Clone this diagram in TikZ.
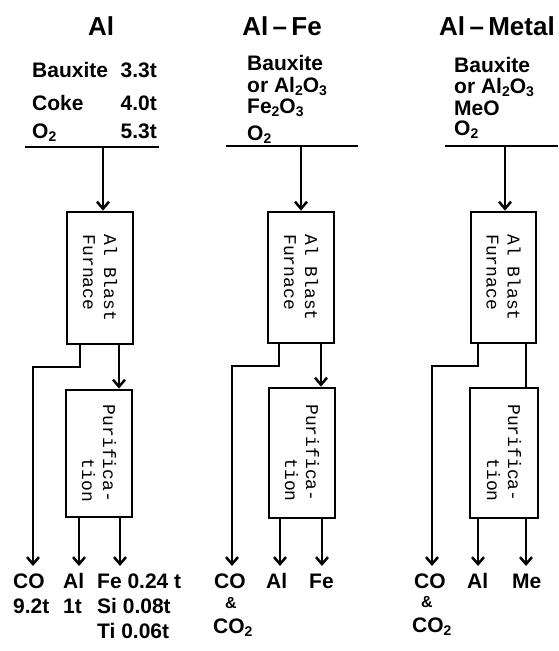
\documentclass[tikz,border=0pt]{standalone}
\usepackage{fontspec}
\setmainfont{Liberation Sans}
\newfontfamily\monofont{Liberation Mono}
\usetikzlibrary{arrows.meta}
\newcommand\lowsub[1]{\raisebox{-0.3ex}{\fontsize{14}{14}\selectfont #1}}
\tikzset{
  lbl/.style={font=\bfseries\fontsize{21}{25}\selectfont, inner sep=0pt, anchor=base west},
  lble/.style={lbl, anchor=base east},
  amp/.style={font=\bfseries\fontsize{16}{17}\selectfont, inner sep=0pt},
  ttl/.style={font=\bfseries\fontsize{26}{30}\selectfont, inner sep=0pt, anchor=base},
  boxnode/.style={draw, line width=2.8pt, minimum width=66pt, inner sep=0pt},
  boxtext/.style={font=\monofont\fontsize{18}{21}\selectfont, inner sep=0pt, rotate=-90},
  flow/.style={line width=2.5pt},
  arr/.style={flow, -{Straight Barb[length=7pt,width=12pt]}}
}
\begin{document}
\begin{tikzpicture}[x=1pt,y=-1pt]
\useasboundingbox (0,0) rectangle (558,651);

% ---------- Column 1: Al ----------
\node[ttl] (t1) at (101,35) {Al};
\node[lbl] (a1) at (32,77) {Bauxite};
\node[lble] (a1v) at (157,77) {3.3t};
\node[lbl] (b1) at (32,110) {Coke};
\node[lble] (b1v) at (157,110) {4.0t};
\node[lbl] (c1) at (32,138) {O\lowsub{2}};
\node[lble] (c1v) at (157,138) {5.3t};
\coordinate (h1l) at (25,147);
\coordinate (h1r) at (159,147);
\coordinate (in1) at (103,147);
\draw[flow] (h1l) -- (h1r);

\node[boxnode, minimum height=132pt] (f1) at (100,278) {};
\node[boxtext, align=left] (f1t) at (f1.center) {Al Blast\\Furnace};
\node[boxnode, minimum height=127pt] (p1) at (99,453.5) {};
\node[boxtext, align=right] (p1t) at (p1.center) {Purifica-\\tion};

\draw[arr] (in1) -- (in1 |- f1.north);
\coordinate (k1) at (33,367);
\coordinate (e1) at (33,566);
\draw[arr] ([xshift=-20pt]f1.south) |- (k1) -- (e1);
\draw[arr] ([xshift=19pt]f1.south) -- ([xshift=19pt]f1.south |- p1.north);
\draw[arr] ([xshift=-20pt]p1.south) -- ([xshift=-20pt]p1.south |- e1);
\draw[arr] ([xshift=21pt]p1.south) -- ([xshift=21pt]p1.south |- e1);

\node[lbl] (o1a) at (13,588) {CO};
\node[lbl] (o1b) at (13,613) {9.2t};
\node[lbl] (o1c) at (63,588) {Al};
\node[lbl] (o1d) at (63,613) {1t};
\node[lbl] (o1e) at (97,588) {Fe 0.24 t};
\node[lbl] (o1f) at (97,613) {Si 0.08t};
\node[lbl] (o1g) at (97,638) {Ti 0.06t};

% ---------- Column 2: Al-Fe ----------
\node[ttl] (t2) at (282,35) {Al\,--\,Fe};
\node[lbl] (a2) at (247,70) {Bauxite};
\node[lbl] (b2) at (247,92) {or Al\lowsub{2}O\lowsub{3}};
\node[lbl] (c2) at (247,113) {Fe\lowsub{2}O\lowsub{3}};
\node[lbl] (d2) at (247,140) {O\lowsub{2}};
\coordinate (h2l) at (226,146);
\coordinate (h2r) at (358,146);
\coordinate (in2) at (301,146);
\draw[flow] (h2l) -- (h2r);

\node[boxnode, minimum height=131pt] (f2) at (301,277.5) {};
\node[boxtext, align=left] (f2t) at (f2.center) {Al Blast\\Furnace};
\node[boxnode, minimum height=130pt] (p2) at (302,453) {};
\node[boxtext, align=right] (p2t) at (p2.center) {Purifica-\\tion};

\draw[arr] (in2) -- (in2 |- f2.north);
\coordinate (k2) at (232,366);
\coordinate (e2) at (232,566);
\draw[arr] ([xshift=-22pt]f2.south) |- (k2) -- (e2);
\draw[arr] ([xshift=20pt]f2.south) -- ([xshift=20pt]f2.south |- p2.north);
\draw[arr] ([xshift=-22pt]p2.south) -- ([xshift=-22pt]p2.south |- e2);
\draw[arr] ([xshift=20pt]p2.south) -- ([xshift=20pt]p2.south |- e2);

\node[lbl] (o2a) at (214,588) {CO};
\node[amp] (o2b) at (231,603) {\&};
\node[lbl] (o2c) at (213,633) {CO\lowsub{2}};
\node[lbl] (o2d) at (266,588) {Al};
\node[lbl] (o2e) at (309,588) {Fe};

% ---------- Column 3: Al-Metal ----------
\node[ttl] (t3) at (497,35) {Al\,--\,Metal};
\node[lbl] (a3) at (454,72) {Bauxite};
\node[lbl] (b3) at (454,93) {or Al\lowsub{2}O\lowsub{3}};
\node[lbl] (c3) at (454,115) {MeO};
\node[lbl] (d3) at (454,135) {O\lowsub{2}};
\coordinate (h3l) at (445,146);
\coordinate (h3r) at (558,146);
\coordinate (in3) at (505,146);
\draw[flow] (h3l) -- (h3r);

\node[boxnode, minimum width=65pt, minimum height=131pt] (f3) at (503.5,277.5) {};
\node[boxtext, align=left] (f3t) at (f3.center) {Al Blast\\Furnace};
\node[boxnode, minimum width=68pt, minimum height=130pt] (p3) at (504,453) {};
\node[boxtext, align=right] (p3t) at (p3.center) {Purifica-\\tion};

\draw[arr] (in3) -- (in3 |- f3.north);
\coordinate (k3) at (432,366);
\coordinate (e3) at (432,566);
\draw[arr] ([xshift=-25.5pt]f3.south) |- (k3) -- (e3);
\draw[flow] ([xshift=22.5pt]f3.south) -- ([xshift=22.5pt]f3.south |- p3.north);
\draw[arr] ([xshift=-26pt]p3.south) -- ([xshift=-26pt]p3.south |- e3);
\draw[arr] ([xshift=22pt]p3.south) -- ([xshift=22pt]p3.south |- e3);

\node[lbl] (o3a) at (414,588) {CO};
\node[amp] (o3b) at (427,602) {\&};
\node[lbl] (o3c) at (412,632) {CO\lowsub{2}};
\node[lbl] (o3d) at (467,588) {Al};
\node[lbl] (o3e) at (512,588) {Me};
\end{tikzpicture}
\end{document}
